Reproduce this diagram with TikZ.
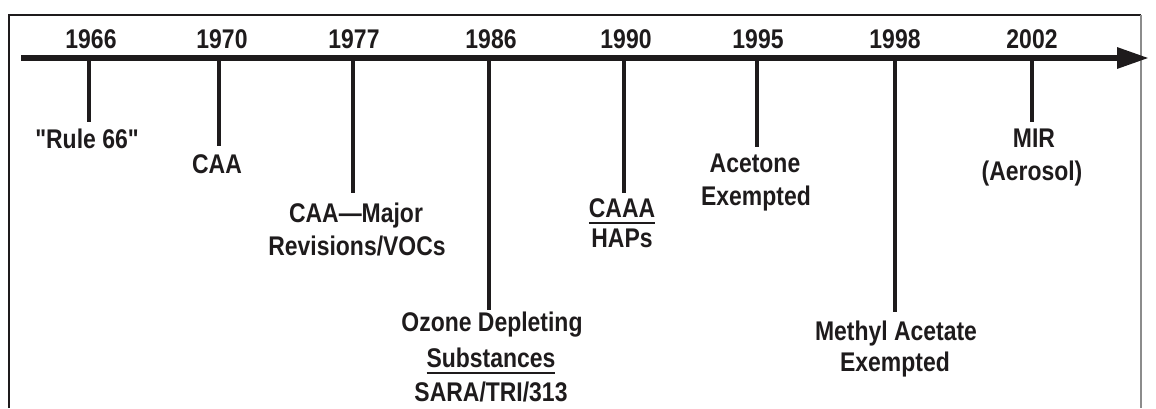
\documentclass[tikz,border=0pt]{standalone}
\usepackage{fontspec}
\setmainfont{Liberation Sans}[FakeStretch=0.85]
\newfontfamily\plainq{Liberation Sans}[FakeStretch=0.85]
\usetikzlibrary{arrows.meta}
\definecolor{ink}{RGB}{30,27,28}
\definecolor{edgegray}{RGB}{140,140,140}
\newcommand{\ulbar}[1]{\setbox0\hbox{#1}\rlap{\rule[-7pt]{\wd0}{2pt}}\box0}
\newcommand{\sq}{{\plainq\bfseries"}}
\begin{document}
\begin{tikzpicture}[x=1pt,y=-1pt,
  yearlbl/.style={anchor=base,inner sep=0pt,text=ink,font=\fontsize{27}{30}\selectfont\bfseries},
  evlbl/.style={anchor=base,inner sep=0pt,text=ink,font=\fontsize{27}{30}\selectfont\bfseries},
  tick/.style={draw=ink,line width=4.5pt},
  axis/.style={draw=ink,line width=6pt,-{Triangle[length=32pt,width=20pt]}},
  frame/.style={draw=ink,line width=2pt}]
\useasboundingbox (0,0) rectangle (1156,408);
% frame
\draw[frame] (9,408) -- (9,15) -- (1141,15);
\draw[draw=edgegray,line width=2pt] (1141,15) -- (1141,408);
% axis
\coordinate (a0) at (21,58);
\coordinate (a1) at (1149,58);
\draw[axis] (a0) -- (a1);
% years
\node[yearlbl] (y66) at (91,48) {1966};
\node[yearlbl] (y70) at (222,48) {1970};
\node[yearlbl] (y77) at (354,48) {1977};
\node[yearlbl] (y86) at (491,48) {1986};
\node[yearlbl] (y90) at (626,48) {1990};
\node[yearlbl] (y95) at (758,48) {1995};
\node[yearlbl] (y98) at (895,48) {1998};
\node[yearlbl] (y02) at (1032,48) {2002};
% tick coordinates
\coordinate (t66a) at (89,58);   \coordinate (t66b) at (89,122);
\coordinate (t70a) at (219,58);  \coordinate (t70b) at (219,146);
\coordinate (t77a) at (353,58);  \coordinate (t77b) at (353,193);
\coordinate (t86a) at (489,58);  \coordinate (t86b) at (489,310);
\coordinate (t90a) at (624,58);  \coordinate (t90b) at (624,193);
\coordinate (t95a) at (757,58);  \coordinate (t95b) at (757,147);
\coordinate (t98a) at (895,58);  \coordinate (t98b) at (895,312);
\coordinate (t02a) at (1032,58); \coordinate (t02b) at (1032,122);
\draw[tick] (t66a) -- (t66b);
\draw[tick] (t70a) -- (t70b);
\draw[tick] (t77a) -- (t77b);
\draw[tick] (t86a) -- (t86b);
\draw[tick] (t90a) -- (t90b);
\draw[tick] (t95a) -- (t95b);
\draw[tick] (t98a) -- (t98b);
\draw[tick] (t02a) -- (t02b);
% event labels
\node[evlbl] (r66) at (87,148) {\sq Rule 66\sq};
\node[evlbl] (caa) at (217,173) {CAA};
\node[evlbl] (maj1) at (356,222) {CAA—Major};
\node[evlbl] (maj2) at (357,255) {Revisions/VOCs};
\node[evlbl] (oz1) at (492,331) {Ozone Depleting};
\node[evlbl] (oz2) at (491,367) {\ulbar{Substances}};
\node[evlbl] (oz3) at (491,401) {SARA/TRI/313};
\node[evlbl] (caaa1) at (622,217) {\ulbar{CAAA}};
\node[evlbl] (caaa2) at (622,247) {HAPs};
\node[evlbl] (ac1) at (755,172) {Acetone};
\node[evlbl] (ac2) at (756,205) {Exempted};
\node[evlbl] (me1) at (896,340) {Methyl Acetate};
\node[evlbl] (me2) at (895,371) {Exempted};
\node[evlbl] (mir1) at (1034,147) {MIR};
\node[evlbl] (mir2) at (1032,180) {(Aerosol)};
\end{tikzpicture}
\end{document}
